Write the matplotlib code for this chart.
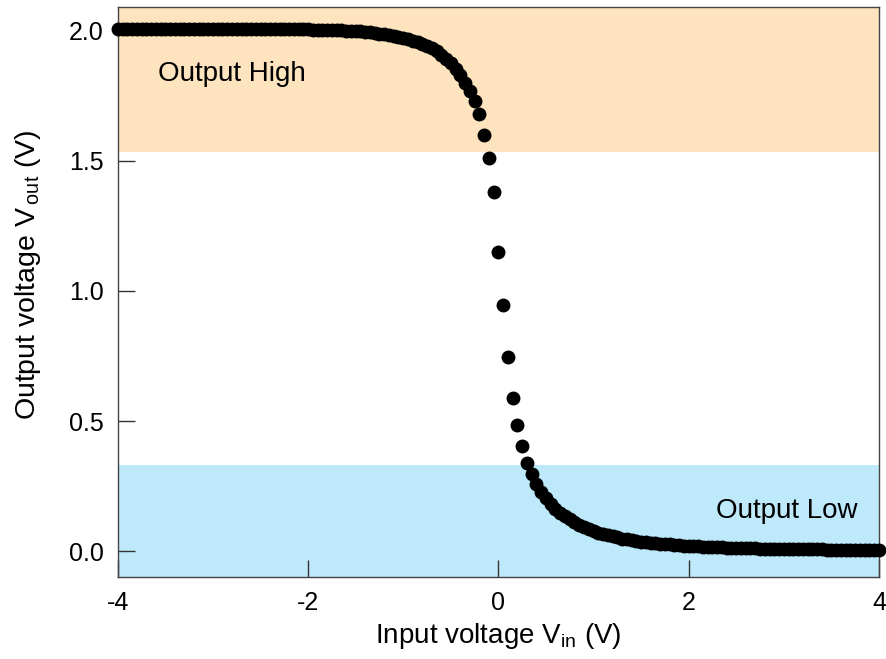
import numpy as np
import matplotlib
matplotlib.use("Agg")
import matplotlib.pyplot as plt

plt.rcParams['font.family'] = ['Liberation Sans', 'DejaVu Sans']
plt.rcParams['mathtext.fontset'] = 'custom'
plt.rcParams['mathtext.rm'] = 'Liberation Sans'

# input voltage sweep (V), 0.05 V step
vin = np.round(np.arange(-4.0, 4.0001, 0.05), 2)

# output voltage (V)
vout = [
    2.005, 2.005, 2.005, 2.005, 2.005, 2.005, 2.005, 2.005, 2.005, 2.005,
    2.005, 2.005, 2.005, 2.005, 2.005, 2.005, 2.005, 2.005, 2.005, 2.005,
    2.005, 2.005, 2.005, 2.005, 2.005, 2.005, 2.005, 2.005, 2.005, 2.005,
    2.005, 2.005, 2.005, 2.005, 2.005, 2.005, 2.005, 2.005, 2.005, 2.005,
    2.005, 2.004, 2.004, 2.003, 2.003, 2.002, 2.002, 2.001, 2.000, 1.999,
    1.998, 1.997, 1.995, 1.993, 1.991, 1.989, 1.986, 1.983, 1.980, 1.976,
    1.972, 1.967, 1.962, 1.956, 1.949, 1.941, 1.932, 1.921, 1.908, 1.893,
    1.875, 1.853, 1.828, 1.800, 1.770, 1.730, 1.680, 1.600, 1.510, 1.380,
    1.150, 0.945, 0.745, 0.590, 0.485, 0.405, 0.340, 0.295, 0.260, 0.228,
    0.203, 0.182, 0.164, 0.148, 0.134, 0.122, 0.111, 0.101, 0.093, 0.085,
    0.078, 0.072, 0.066, 0.061, 0.057, 0.053, 0.049, 0.046, 0.043, 0.040,
    0.037, 0.035, 0.033, 0.031, 0.029, 0.027, 0.026, 0.024, 0.023, 0.022,
    0.021, 0.020, 0.019, 0.018, 0.017, 0.016, 0.015, 0.015, 0.014, 0.013,
    0.013, 0.012, 0.012, 0.011, 0.011, 0.010, 0.010, 0.009, 0.009, 0.009,
    0.008, 0.008, 0.008, 0.008, 0.007, 0.007, 0.007, 0.007, 0.007, 0.006,
    0.006, 0.006, 0.006, 0.006, 0.006, 0.005, 0.005, 0.005, 0.005, 0.005,
    0.005,
]

high_band = (1.535, 2.09)
low_band = (-0.1, 0.33)
xticks = [-4, -2, 0, 2, 4]
xticklabels = ['-4', '-2', '0', '2', '4']
yticks = [0.0, 0.5, 1.0, 1.5, 2.0]

fig = plt.figure(figsize=(8.86, 6.59), dpi=100)
ax = fig.add_axes([0.133, 0.124, 0.859, 0.865])

ax.axhspan(*high_band, color='#fde3be', lw=0, zorder=0)
ax.axhspan(*low_band, color='#bde9fb', lw=0, zorder=0)

ax.plot(vin, vout, 'o', color='black', ms=9, zorder=3, clip_on=False)

ax.text(-3.58, 1.835, 'Output High', fontsize=20, va='center', ha='left')
ax.text(3.77, 0.155, 'Output Low', fontsize=20, va='center', ha='right')

ax.set_xlim(-4, 4)
ax.set_ylim(-0.1, 2.09)
ax.set_xticks(xticks)
ax.set_xticklabels(xticklabels)
ax.set_yticks(yticks)
ax.set_yticklabels(['%.1f' % v for v in yticks])
ax.tick_params(direction='in', length=12, width=1, colors='#333333',
               labelcolor='black', labelsize=18, pad=10)
ax.tick_params(top=False, right=False)
for s in ax.spines.values():
    s.set_color('#444444')
    s.set_linewidth(1.0)

ax.set_xlabel(r'Input voltage V$_{\mathregular{in}}$ (V)', fontsize=20, labelpad=4)
ax.set_ylabel(r'Output voltage V$_{\,\mathregular{out}}$ (V)', fontsize=20.5)
ax.yaxis.set_label_coords(-0.098, 0.53)

fig.savefig('out.png', dpi=100)
